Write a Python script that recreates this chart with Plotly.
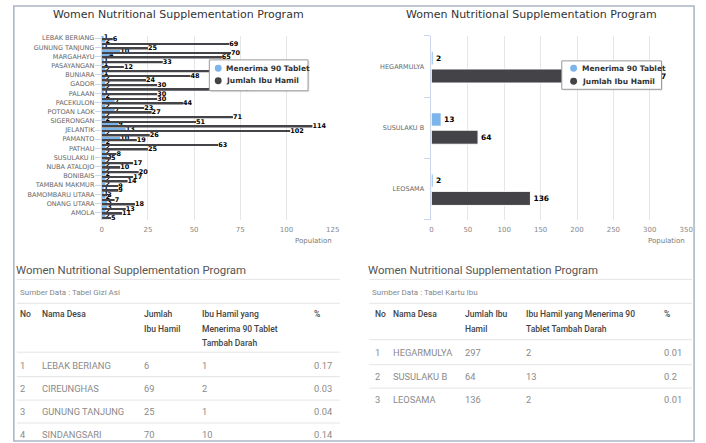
import plotly.graph_objects as go

W, H = 706, 443


def px(x):
    return x / W


def py(y):
    return 1 - y / H


chart_title = "Women Nutritional Supplementation Program"
series_names = ["Menerima 90 Tablet", "Jumlah Ibu Hamil"]
series_colors = ["#7cb5ec", "#434348"]
axis_title = "Population"

# ---- left bar chart (40 villages, every second label shown) ----
left_tick_labels = [
    "LEBAK BERIANG", "GUNUNG TANJUNG", "MARGAHAYU", "PASAYANGAN", "BUNIARA",
    "GADOR", "PALAAN", "PACEKULON", "POTOAN LAOK", "SIGERONGAN",
    "JELANTIK", "PAMANTO", "PATHAU", "SUSULAKU II", "NUBA ATALOJO",
    "BONIBAIS", "TAMBAN MAKMUR", "BAMOMBARU UTARA", "ONANG UTARA", "AMOLA",
]
left_jumlah = [
    6, 69, 25, 70, 65, 33, 12, 60, 48, 24,
    30, 75, 30, 30, 44, 23, 27, 71, 51, 114,
    102, 26, 19, 63, 25, 8, 5, 17, 10, 20,
    17, 14, 9, 9, 3, 7, 18, 13, 11, 5,
]
left_menerima = [
    1, 2, 1, 10, 4, 1, 1, 2, 1, 2,
    2, 2, 1, 2, 7, 2, 7, 2, 2, 9,
    13, 2, 10, 2, 2, 2, 3, 2, 2, 2,
    2, 2, 2, 1, 1, 2, 3, 3, 2, 2,
]
left_ticks = [0, 25, 50, 75, 100, 125]

# ---- right bar chart ----
right_villages = ["HEGARMULYA", "SUSULAKU B", "LEOSAMA"]
right_jumlah = [297, 64, 136]
right_menerima = [2, 13, 2]
right_ticks = [0, 50, 100, 150, 200, 250, 300, 350]

# ---- tables ----
left_table_source = "Sumber Data : Tabel Gizi Asi"
left_table_header = ["No", "Nama Desa", "Jumlah<br>Ibu Hamil",
                     "Ibu Hamil yang<br>Menerima 90 Tablet<br>Tambah Darah", "%"]
left_table_no = ["1", "2", "3", "4"]
left_table_desa = ["LEBAK BERIANG", "CIREUNGHAS", "GUNUNG TANJUNG", "SINDANGSARI"]
left_table_jumlah = ["6", "69", "25", "70"]
left_table_menerima = ["1", "2", "1", "10"]
left_table_pct = ["0.17", "0.03", "0.04", "0.14"]

right_table_source = "Sumber Data : Tabel Kartu Ibu"
right_table_header = ["No", "Nama Desa", "Jumlah Ibu<br>Hamil",
                      "Ibu Hamil yang Menerima 90<br>Tablet Tambah Darah", "%"]
right_table_no = ["1", "2", "3"]
right_table_desa = ["HEGARMULYA", "SUSULAKU B", "LEOSAMA"]
right_table_jumlah = ["297", "64", "136"]
right_table_menerima = ["2", "13", "2"]
right_table_pct = ["0.01", "0.2", "0.01"]

fig = go.Figure()

left_idx = list(range(len(left_jumlah)))
label_font = dict(family="DejaVu Sans", size=6.5, color="#000000", weight="bold")

fig.add_trace(go.Bar(
    orientation="h", x=left_menerima, y=left_idx, xaxis="x", yaxis="y",
    offset=-0.44, width=0.4, marker=dict(color=series_colors[0], line=dict(width=0)),
    text=left_menerima, textposition="outside", outsidetextfont=label_font,
    constraintext="none", cliponaxis=False, name=series_names[0],
))
fig.add_trace(go.Bar(
    orientation="h", x=left_jumlah, y=left_idx, xaxis="x", yaxis="y",
    offset=0.04, width=0.4, marker=dict(color=series_colors[1], line=dict(width=0)),
    text=left_jumlah, textposition="outside", outsidetextfont=label_font,
    constraintext="none", cliponaxis=False, name=series_names[1],
))

right_idx = list(range(len(right_villages)))
label_font_r = dict(family="DejaVu Sans", size=7.5, color="#000000", weight="bold")
fig.add_trace(go.Bar(
    orientation="h", x=right_menerima, y=right_idx, xaxis="x2", yaxis="y2",
    offset=-0.24, width=0.21, marker=dict(color=series_colors[0], line=dict(color="#ffffff", width=0.5)),
    text=right_menerima, textposition="outside", outsidetextfont=label_font_r,
    constraintext="none", cliponaxis=False, name=series_names[0],
))
fig.add_trace(go.Bar(
    orientation="h", x=right_jumlah, y=right_idx, xaxis="x2", yaxis="y2",
    offset=0.04, width=0.23, marker=dict(color=series_colors[1], line=dict(color="#ffffff", width=1)),
    text=right_jumlah, textposition="outside", outsidetextfont=label_font_r,
    constraintext="none", cliponaxis=False, name=series_names[1],
))

axis_tick_font = dict(family="DejaVu Sans", size=7, color="#888888")
cat_font = dict(family="DejaVu Sans", size=6.5, color="#666666")
grid_col = "#e6e6e6"
axis_line_col = "#ccd6eb"

fig.update_layout(
    width=W, height=H, margin=dict(l=0, r=0, t=0, b=0),
    paper_bgcolor="#ffffff", plot_bgcolor="#ffffff",
    barmode="overlay", showlegend=False,
    xaxis=dict(domain=[px(101), px(335)], range=[0, 125], anchor="y",
               tickvals=left_ticks, showgrid=True, gridcolor=grid_col, gridwidth=1,
               zeroline=False, showline=False, tickfont=axis_tick_font,
               ticklabelstandoff=4, fixedrange=True),
    yaxis=dict(domain=[py(219), py(35)], range=[len(left_jumlah) - 0.5, -0.5],
               anchor="x", tickvals=left_idx[::2], ticktext=left_tick_labels,
               tickfont=cat_font, ticks="outside", ticklen=6, tickcolor=axis_line_col,
               ticklabelstandoff=-1,
               showline=True, linecolor=axis_line_col, showgrid=False, zeroline=False,
               fixedrange=True),
    xaxis2=dict(domain=[px(435), px(693)], range=[0, 350], anchor="y2",
                tickvals=right_ticks, showgrid=True, gridcolor=grid_col, gridwidth=1,
                zeroline=False, showline=False, tickfont=axis_tick_font,
                ticklabelstandoff=4, ticklabeloverflow="allow", fixedrange=True),
    yaxis2=dict(domain=[py(219), py(35)], range=[len(right_villages) - 0.5, -0.5],
                anchor="x2", tickvals=right_idx, ticktext=right_villages,
                tickfont=cat_font, ticks="", ticklabelstandoff=5,
                minor=dict(tickvals=[-0.5, 0.5, 1.5, 2.5], ticks="outside", ticklen=6,
                           tickcolor=axis_line_col, showgrid=False),
                showline=True, linecolor=axis_line_col, showgrid=False, zeroline=False,
                fixedrange=True),
)

annotations = []
shapes = []

# outer frame
shapes.append(dict(type="rect", xref="paper", yref="paper",
                   x0=px(12), x1=px(701), y0=py(441), y1=py(5),
                   line=dict(color="#aab4c6", width=1.5), fillcolor="rgba(0,0,0,0)"))

# chart titles
for cx in (179, 536):
    annotations.append(dict(text=chart_title, x=px(cx), y=py(14), xref="paper", yref="paper",
                            xanchor="center", yanchor="middle", showarrow=False,
                            font=dict(family="DejaVu Sans", size=11, color="#333333")))
# axis titles
for rx in (336, 694):
    annotations.append(dict(text=axis_title, x=px(rx), y=py(241), xref="paper", yref="paper",
                            xanchor="right", yanchor="middle", showarrow=False,
                            font=dict(family="DejaVu Sans", size=7, color="#777777")))


# legends (Highcharts-style boxes with round symbols)
def legend_box(x0, x1, y0, y1, cx, ys, tx):
    shapes.append(dict(type="rect", xref="paper", yref="paper", layer="above",
                       x0=px(x0 + 1.5), x1=px(x1 + 1.5), y0=py(y1 + 1.5), y1=py(y0 + 1.5),
                       line=dict(width=0), fillcolor="rgba(0,0,0,0.08)"))
    shapes.append(dict(type="rect", xref="paper", yref="paper", layer="above",
                       x0=px(x0), x1=px(x1), y0=py(y1), y1=py(y0),
                       line=dict(color="#999999", width=1), fillcolor="#ffffff"))
    for name, col, yy in zip(series_names, series_colors, ys):
        shapes.append(dict(type="circle", xref="paper", yref="paper", layer="above",
                           x0=px(cx - 3.5), x1=px(cx + 3.5), y0=py(yy + 3.5), y1=py(yy - 3.5),
                           line=dict(width=0), fillcolor=col))
        annotations.append(dict(text=name, x=px(tx), y=py(yy), xref="paper", yref="paper",
                                xanchor="left", yanchor="middle", showarrow=False,
                                font=dict(family="DejaVu Sans", size=7.5, color="#333333",
                                          weight="bold")))


legend_box(210, 310, 59, 90, 219, [67.5, 80], 225)
legend_box(567, 668, 60, 88.5, 579, [67.5, 80.5], 585)


def hline(y, x0, x1, col="#e4e4e4"):
    shapes.append(dict(type="line", xref="paper", yref="paper",
                       x0=px(x0), x1=px(x1), y0=py(y), y1=py(y),
                       line=dict(color=col, width=1)))


def text(t, x, y, size=8, color="#777777", weight="normal", family="Roboto"):
    annotations.append(dict(text=t, x=px(x - 3), y=py(y), xref="paper", yref="paper",
                            xanchor="left", yanchor="middle", showarrow=False,
                            font=dict(family=family, size=size, color=color, weight=weight)))


def table(x_left, x_right, source, header, cols_x, header_y, head_line_y,
          rows, row_y, row_lines):
    text(chart_title, x_left, 270, size=11.4, color="#555555")
    hline(279, x_left, x_right)
    text(source, x_left + 4, 292, size=8, color="#888888")
    hline(303, x_left, x_right)
    for h, cx in zip(header, cols_x):
        for k, line in enumerate(h.split("<br>")):
            text(line, cx, header_y[k], size=8.5, color="#444444", weight=500)
    hline(head_line_y, x_left, x_right)
    for r, ry in zip(rows, row_y):
        for v, cx in zip(r, cols_x):
            text(v, cx, ry, size=9.3, color="#8a8a8a")
    for ly in row_lines:
        hline(ly, x_left, x_right)


left_rows = list(zip(left_table_no, left_table_desa, left_table_jumlah,
                     left_table_menerima, left_table_pct))
table(15, 342, left_table_source, left_table_header,
      [19, 41, 145, 204, 317], [314, 328.5, 342.5], 352,
      left_rows, [365, 388, 411.5, 434.5], [376.5, 400, 423])

right_rows = list(zip(right_table_no, right_table_desa, right_table_jumlah,
                      right_table_menerima, right_table_pct))
table(372, 699, right_table_source, right_table_header,
      [379, 397, 470, 532, 672], [314, 328.5], 339.5,
      right_rows, [352.5, 376, 399.5], [364.5, 388])

fig.update_layout(annotations=annotations, shapes=shapes)

fig.write_html("out.html")
